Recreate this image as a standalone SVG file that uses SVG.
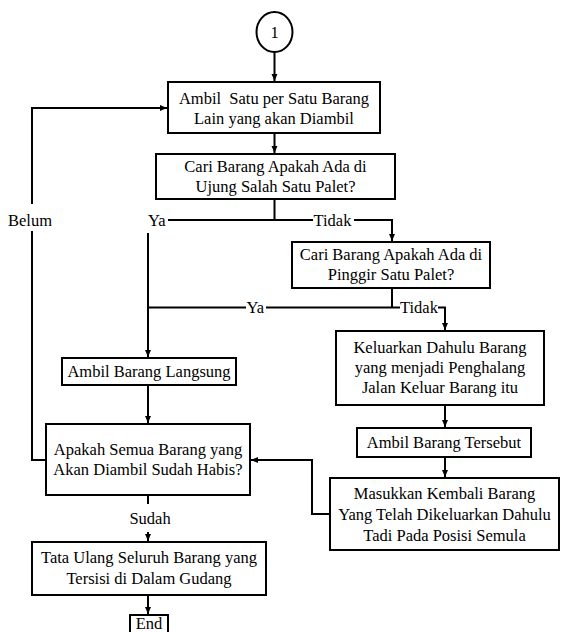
<svg xmlns="http://www.w3.org/2000/svg" width="561" height="632" viewBox="0 0 561 632">
<style>
.box{fill:#fff;stroke:#000;stroke-width:2}
.t{font-family:"Liberation Serif","Times New Roman",serif;font-size:16.5px;fill:#000;text-anchor:middle}
.lbl{font-family:"Liberation Serif","Times New Roman",serif;font-size:16.5px;fill:#000}
.ln{fill:none;stroke:#000;stroke-width:2}
</style>
<defs>
<marker id="arr" markerWidth="8" markerHeight="8" refX="7" refY="4" orient="auto" markerUnits="userSpaceOnUse">
<path d="M0,1 L7,4 L0,7 Z" fill="#000"/>
</marker>
</defs>
<rect width="561" height="632" fill="#fff"/>
<g id="connectors">
<path class="ln" d="M274.5,52 V81" marker-end="url(#arr)"/>
<path class="ln" d="M274.5,133 V153" marker-end="url(#arr)"/>
<path class="ln" d="M274.5,199 V220 M168,220 H313 M354,220 H392 V241" marker-end="url(#arr)"/>
<path class="ln" d="M148,233 V357" marker-end="url(#arr)"/>
<path class="ln" d="M392,288 V307.5 M148,307.5 H246 M266,307.5 H400"/>
<path class="ln" d="M438,307.5 H445 V330" marker-end="url(#arr)"/>
<path class="ln" d="M445,405 V427" marker-end="url(#arr)"/>
<path class="ln" d="M445,457 V477" marker-end="url(#arr)"/>
<path class="ln" d="M330,514 H312 V460 H251" marker-end="url(#arr)"/>
<path class="ln" d="M148,385 V423" marker-end="url(#arr)"/>
<path class="ln" d="M46,460 H32 V231"/>
<path class="ln" d="M32,204 V108 H167" marker-end="url(#arr)"/>
<path class="ln" d="M148,495 V504"/>
<path class="ln" d="M148,532 V541" marker-end="url(#arr)"/>
<path class="ln" d="M148,595 V614" marker-end="url(#arr)"/>
<text class="lbl" x="8" y="225.5">Belum</text>
<text class="lbl" x="148" y="225.5">Ya</text>
<text class="lbl" x="313.5" y="225.5">Tidak</text>
<text class="lbl" x="246.5" y="313">Ya</text>
<text class="lbl" x="400" y="313">Tidak</text>
<text class="t" x="150" y="523.5">Sudah</text>
</g>
<g id="start">
<ellipse cx="274.5" cy="32" rx="18" ry="20" fill="#fff" stroke="#000" stroke-width="2"/>
<text class="t" x="274.5" y="38">1</text>
</g>
<g id="ambil-satu">
<rect class="box" x="168" y="82" width="212" height="51"/>
<text class="t" x="274" y="103.5" style="white-space:pre">Ambil  Satu per Satu Barang</text>
<text class="t" x="274" y="123.5">Lain yang akan Diambil</text>
</g>
<g id="cari-ujung">
<rect class="box" x="156" y="154" width="239" height="45"/>
<text class="t" x="275.5" y="171.5">Cari Barang Apakah Ada di</text>
<text class="t" x="275.5" y="191.5">Ujung Salah Satu Palet?</text>
</g>
<g id="cari-pinggir">
<rect class="box" x="292" y="242" width="198" height="46"/>
<text class="t" x="391" y="260">Cari Barang Apakah Ada di</text>
<text class="t" x="391" y="280">Pinggir Satu Palet?</text>
</g>
<g id="keluarkan">
<rect class="box" x="336" y="331" width="208" height="74"/>
<text class="t" x="440" y="353">Keluarkan Dahulu Barang</text>
<text class="t" x="440" y="373">yang menjadi Penghalang</text>
<text class="t" x="440" y="393">Jalan Keluar Barang itu</text>
</g>
<g id="ambil-langsung">
<rect class="box" x="62" y="358" width="174" height="27"/>
<text class="t" x="149" y="377">Ambil Barang Langsung</text>
</g>
<g id="apakah-habis">
<rect class="box" x="46" y="424" width="204" height="71"/>
<text class="t" x="148" y="454.5">Apakah Semua Barang yang</text>
<text class="t" x="148" y="475">Akan Diambil Sudah Habis?</text>
</g>
<g id="ambil-tersebut">
<rect class="box" x="357" y="428" width="174" height="29"/>
<text class="t" x="444" y="448">Ambil Barang Tersebut</text>
</g>
<g id="masukkan">
<rect class="box" x="330" y="478" width="229" height="72"/>
<text class="t" x="444.5" y="499">Masukkan Kembali Barang</text>
<text class="t" x="444.5" y="520">Yang Telah Dikeluarkan Dahulu</text>
<text class="t" x="444.5" y="541">Tadi Pada Posisi Semula</text>
</g>
<g id="tata-ulang">
<rect class="box" x="32" y="542" width="234" height="53"/>
<text class="t" x="149" y="562.5">Tata Ulang Seluruh Barang yang</text>
<text class="t" x="149" y="583.5">Tersisi di Dalam Gudang</text>
</g>
<g id="end">
<rect class="box" x="130" y="615" width="38" height="30"/>
<text class="t" x="149" y="629">End</text>
</g>
</svg>
